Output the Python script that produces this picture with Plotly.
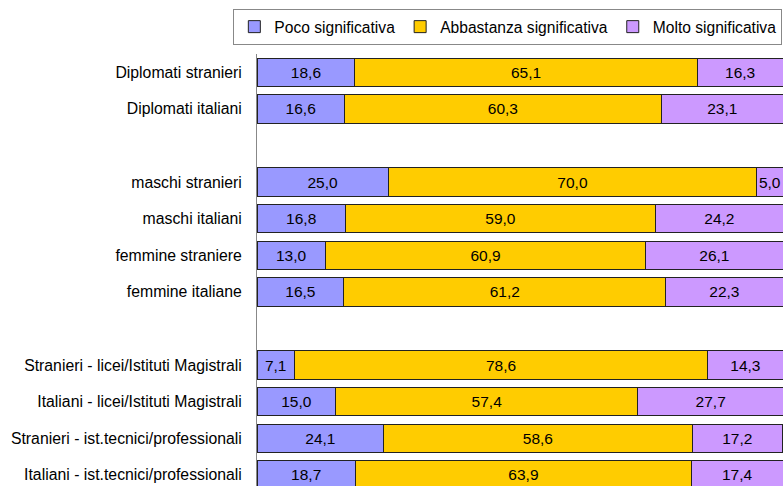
import plotly.graph_objects as go

# categorie dall'alto verso il basso (" " e "  " = righe vuote di separazione)
categorie = [
    "Diplomati stranieri",
    "Diplomati italiani",
    " ",
    "maschi stranieri",
    "maschi italiani",
    "femmine straniere",
    "femmine italiane",
    "  ",
    "Stranieri - licei/Istituti Magistrali",
    "Italiani - licei/Istituti Magistrali",
    "Stranieri - ist.tecnici/professionali",
    "Italiani - ist.tecnici/professionali",
]

poco = [18.6, 16.6, None, 25.0, 16.8, 13.0, 16.5, None, 7.1, 15.0, 24.1, 18.7]
abbastanza = [65.1, 60.3, None, 70.0, 59.0, 60.9, 61.2, None, 78.6, 57.4, 58.6, 63.9]
molto = [16.3, 23.1, None, 5.0, 24.2, 26.1, 22.3, None, 14.3, 27.7, 17.2, 17.4]

serie = [
    ("Poco significativa", poco, "#9999FF"),
    ("Abbastanza significativa", abbastanza, "#FFCC00"),
    ("Molto significativa", molto, "#CC99FF"),
]

FONT = "Liberation Sans, Arial, sans-serif"

fig = go.Figure()
for nome, valori, colore in serie:
    fig.add_trace(go.Bar(
        name=nome,
        y=categorie,
        x=valori,
        orientation="h",
        marker=dict(color=colore, line=dict(color="#222222", width=1)),
        texttemplate="%{x:.1f}",
        textposition="inside",
        insidetextanchor="middle",
        constraintext="none",
        textangle=0,
        textfont=dict(family=FONT, size=15.5, color="black"),
        hoverinfo="skip",
    ))

fig.update_layout(
    width=783,
    height=486,
    barmode="stack",
    bargap=0.225,
    separators=",.",
    plot_bgcolor="white",
    paper_bgcolor="white",
    font=dict(family=FONT, size=15.5, color="black"),
    margin=dict(l=257, r=0, t=54, b=0, autoexpand=False),
    showlegend=True,
    legend=dict(
        orientation="h",
        x=-0.045, y=1 + 45 / 432,
        xanchor="left", yanchor="top",
        bordercolor="#888888", borderwidth=1,
        font=dict(family=FONT, size=15.6, color="black"),
        itemwidth=30,
        tracegroupgap=0,
        traceorder="normal",
    ),
    xaxis=dict(
        range=[0, 100],
        visible=False,
        showgrid=False,
        zeroline=False,
    ),
    yaxis=dict(
        type="category",
        categoryorder="array",
        categoryarray=categorie,
        range=[11.305, -0.5],
        showline=True,
        linecolor="#888888",
        linewidth=1,
        showgrid=False,
        ticks="",
        ticklabelstandoff=11,
        tickfont=dict(family=FONT, size=15.8, color="black"),
    ),
)

# niente margine della pagina, cosi' il grafico parte dall'angolo in alto a sinistra
fig.write_html(
    "out.html",
    config={"displayModeBar": False},
    post_script="document.body.style.margin = '0';",
)
